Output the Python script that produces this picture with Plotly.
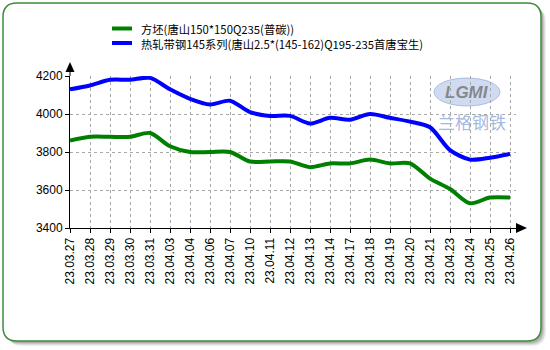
import plotly.graph_objects as go

dates = ["23.03.27", "23.03.28", "23.03.29", "23.03.30", "23.03.31", "23.04.03", "23.04.04",
         "23.04.06", "23.04.07", "23.04.10", "23.04.11", "23.04.12", "23.04.13", "23.04.14",
         "23.04.17", "23.04.18", "23.04.19", "23.04.20", "23.04.21", "23.04.23", "23.04.24",
         "23.04.25", "23.04.26"]
billet = [3860, 3880, 3880, 3880, 3900, 3830, 3800, 3800, 3800, 3750, 3750, 3750, 3720, 3740,
          3740, 3760, 3740, 3740, 3660, 3605, 3530, 3560, 3560]
strip = [4130, 4150, 4180, 4180, 4190, 4130, 4080, 4050, 4070, 4010, 3990, 3990, 3950, 3980,
         3970, 4000, 3980, 3960, 3930, 3810, 3760, 3770, 3790]
names = ["方坯(唐山150*150Q235(普碳))", "热轧带钢145系列(唐山2.5*(145-162)Q195-235首唐宝生)"]
colors = ["#008000", "#0000ff"]
yticks = [3400, 3600, 3800, 4000, 4200]

W, H = 550, 350
L, R, T, B = 70, 34, 76, 122
PW, PH = W - L - R, H - T - B


def px(x):
    return (x - L) / PW


def py(y):
    return (H - B - y) / PH


xs = list(range(len(dates)))
fig = go.Figure()
for vals, name, col in zip([billet, strip], names, colors):
    fig.add_trace(go.Scatter(x=xs, y=vals, mode="lines", name=name,
                             line=dict(color=col, width=4, shape="spline", smoothing=0.8),
                             showlegend=False))

shapes = []


def rounded(x0, y0, x1, y1, r):
    return (f"M {px(x0 + r)},{py(y0)} L {px(x1 - r)},{py(y0)} Q {px(x1)},{py(y0)} {px(x1)},{py(y0 + r)} "
            f"L {px(x1)},{py(y1 - r)} Q {px(x1)},{py(y1)} {px(x1 - r)},{py(y1)} "
            f"L {px(x0 + r)},{py(y1)} Q {px(x0)},{py(y1)} {px(x0)},{py(y1 - r)} "
            f"L {px(x0)},{py(y0 + r)} Q {px(x0)},{py(y0)} {px(x0 + r)},{py(y0)} Z")


for off, op in [(5, 0.06), (4, 0.08), (3, 0.1), (2, 0.12)]:
    shapes.append(dict(type="path", xref="paper", yref="paper", layer="below",
                       path=rounded(3 + off, 3 + off, 541 + off, 341 + off, 14),
                       fillcolor=f"rgba(0,0,0,{op})", line=dict(width=0)))
shapes.append(dict(type="path", xref="paper", yref="paper", layer="below",
                   path=rounded(3, 3, 541, 341, 14), fillcolor="white",
                   line=dict(color="#3c8c3c", width=1.5)))
# axis extensions and arrows
shapes.append(dict(type="line", xref="paper", yref="paper", x0=px(70), x1=px(70), y0=py(76), y1=py(70),
                   line=dict(color="black", width=1)))
shapes.append(dict(type="path", xref="paper", yref="paper",
                   path=f"M {px(65.5)},{py(72)} L {px(74.5)},{py(72)} L {px(70)},{py(62)} Z",
                   fillcolor="black", line=dict(width=0)))
shapes.append(dict(type="path", xref="paper", yref="paper",
                   path=f"M {px(516)},{py(223)} L {px(516)},{py(233)} L {px(527)},{py(228)} Z",
                   fillcolor="black", line=dict(width=0)))
# legend lines
for i, col in enumerate(colors):
    yy = 28.5 + i * 14.5
    shapes.append(dict(type="line", xref="paper", yref="paper", x0=px(112), x1=px(132), y0=py(yy), y1=py(yy),
                       line=dict(color=col, width=4)))
# logo ellipse
shapes.append(dict(type="circle", xref="paper", yref="paper", layer="below",
                   x0=px(434), x1=px(500), y0=py(106), y1=py(78),
                   fillcolor="rgba(150,175,225,0.45)", line=dict(color="rgba(130,160,215,0.6)", width=1)))

annotations = []
annotations.append(dict(text="<br>".join(names), xref="paper", yref="paper", x=px(139), y=py(36),
                        xanchor="left", yanchor="middle", align="left", showarrow=False,
                        font=dict(family="Noto Sans CJK SC, Liberation Sans, sans-serif", size=11.3, color="black")))
annotations.append(dict(text="<b><i>LGMI</i></b>", xref="paper", yref="paper", x=px(467), y=py(92),
                        xanchor="center", yanchor="middle", showarrow=False,
                        font=dict(family="Liberation Sans", size=17, color="rgba(120,120,120,0.85)")))
annotations.append(dict(text="兰格钢铁", xref="paper", yref="paper", x=px(472), y=py(121),
                        xanchor="center", yanchor="middle", showarrow=False,
                        font=dict(family="Noto Sans CJK SC", size=17, color="rgba(140,165,215,0.8)")))

fig.update_layout(
    width=W, height=H, margin=dict(l=L, r=R, t=T, b=B, pad=0),
    paper_bgcolor="white", plot_bgcolor="rgba(0,0,0,0)",
    font=dict(family="Liberation Sans, Arial, sans-serif", size=12, color="black"),
    shapes=shapes, annotations=annotations, showlegend=False,
    xaxis=dict(range=[0, 22.3], tickvals=xs, ticktext=dates, tickangle=-90,
               showgrid=True, gridcolor="#a8a8a8", griddash="dot", gridwidth=1,
               showline=True, linecolor="black", linewidth=1, ticks="outside", ticklen=4,
               tickcolor="black", zeroline=False, tickfont=dict(size=12)),
    yaxis=dict(range=[3400, 4200], tickvals=yticks, showgrid=True, gridcolor="#a8a8a8",
               griddash="dot", gridwidth=1, showline=True, linecolor="black", linewidth=1,
               ticks="outside", ticklen=4, tickcolor="black", zeroline=False, tickfont=dict(size=12)),
)
fig.write_html("out.html")
